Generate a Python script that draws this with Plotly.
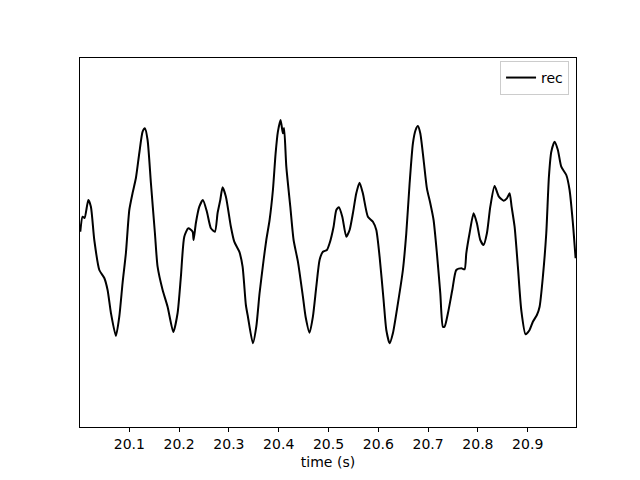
import plotly.graph_objects as go

time_s = [20.0016, 20.0062, 20.0102, 20.0177, 20.0229, 20.0297, 20.0398, 20.0498, 20.0564, 20.0631,
          20.0731, 20.0799, 20.0865, 20.0932, 20.1000, 20.1066, 20.1133, 20.1201, 20.1267, 20.1313,
          20.1367, 20.1434, 20.1514, 20.1568, 20.1669, 20.1769, 20.1884, 20.1970, 20.2036, 20.2104,
          20.2185, 20.2271, 20.2291, 20.2337, 20.2406, 20.2478, 20.2558, 20.2639, 20.2719, 20.2773,
          20.2827, 20.2873, 20.2940, 20.3040, 20.3108, 20.3209, 20.3275, 20.3341, 20.3382, 20.3482,
          20.3550, 20.3616, 20.3697, 20.3751, 20.3817, 20.3884, 20.3938, 20.3984, 20.4038, 20.4084,
          20.4108, 20.4153, 20.4233, 20.4299, 20.4386, 20.4486, 20.4540, 20.4620, 20.4687, 20.4755,
          20.4821, 20.4888, 20.4968, 20.5022, 20.5102, 20.5157, 20.5209, 20.5277, 20.5357, 20.5424,
          20.5490, 20.5558, 20.5624, 20.5690, 20.5791, 20.5892, 20.5960, 20.6026, 20.6106, 20.6161,
          20.6227, 20.6293, 20.6394, 20.6494, 20.6562, 20.6629, 20.6695, 20.6749, 20.6795, 20.6843,
          20.6910, 20.6976, 20.7044, 20.7110, 20.7177, 20.7245, 20.7297, 20.7331, 20.7398, 20.7486,
          20.7566, 20.7667, 20.7733, 20.7767, 20.7833, 20.7914, 20.7980, 20.8048, 20.8114, 20.8181,
          20.8249, 20.8335, 20.8422, 20.8516, 20.8582, 20.8637, 20.8677, 20.8737, 20.8803, 20.8871,
          20.8958, 20.9038, 20.9104, 20.9185, 20.9239, 20.9305, 20.9373, 20.9426, 20.9474, 20.9540,
          20.9606, 20.9674, 20.9775, 20.9841, 20.9908, 20.9962]

rec = [0.108, 0.258, 0.245, 0.425, 0.358, 0.025, -0.275, -0.355, -0.475, -0.705,
       -0.935, -0.742, -0.405, -0.105, 0.325, 0.495, 0.645, 0.895, 1.108, 1.142,
       1.025, 0.595, 0.095, -0.242, -0.475, -0.642, -0.895, -0.705, -0.342, 0.058,
       0.142, 0.108, 0.025, 0.195, 0.358, 0.425, 0.308, 0.142, 0.108, 0.295,
       0.425, 0.552, 0.458, 0.158, 0.008, -0.092, -0.242, -0.625, -0.742, -1.008,
       -0.842, -0.505, -0.175, 0.025, 0.225, 0.525, 0.892, 1.108, 1.225, 1.092,
       1.145, 0.758, 0.358, 0.025, -0.192, -0.542, -0.742, -0.902, -0.742, -0.442,
       -0.175, -0.092, -0.075, -0.008, 0.158, 0.325, 0.352, 0.258, 0.058, 0.125,
       0.292, 0.492, 0.598, 0.492, 0.258, 0.208, 0.125, -0.142, -0.575, -0.875,
       -1.008, -0.908, -0.608, -0.275, 0.092, 0.592, 0.992, 1.125, 1.165, 1.092,
       0.825, 0.542, 0.392, 0.225, -0.108, -0.508, -0.842, -0.842, -0.708, -0.475,
       -0.275, -0.258, -0.268, -0.108, 0.092, 0.292, 0.192, 0.025, -0.025, 0.092,
       0.358, 0.565, 0.458, 0.418, 0.442, 0.492, 0.358, 0.158, -0.242, -0.675,
       -0.918, -0.875, -0.792, -0.725, -0.642, -0.342, 0.092, 0.658, 0.908, 1.008,
       0.925, 0.758, 0.675, 0.525, 0.192, -0.158]

tick_vals = [20.1, 20.2, 20.3, 20.4, 20.5, 20.6, 20.7, 20.8, 20.9]
tick_text = ["20.1", "20.2", "20.3", "20.4", "20.5", "20.6", "20.7", "20.8", "20.9"]

fig = go.Figure()
fig.add_trace(go.Scatter(x=time_s, y=rec, mode="lines", name="rec",
                         line=dict(color="black", width=2, shape="spline", smoothing=0.6)))

fig.update_layout(
    width=640, height=480,
    margin=dict(l=72, r=72, t=50, b=61),
    paper_bgcolor="white", plot_bgcolor="white",
    font=dict(family="DejaVu Sans", size=14, color="black"),
    showlegend=True,
    legend=dict(x=0.986, y=0.992, xanchor="right", yanchor="top",
                bordercolor="#cccccc", borderwidth=1, bgcolor="white",
                font=dict(family="DejaVu Sans", size=14)),
    xaxis=dict(range=[20.001, 20.997], tickvals=tick_vals, ticktext=tick_text,
               tickfont=dict(family="DejaVu Sans", size=14, color="black"),
               ticks="outside", ticklen=4, tickcolor="black", showgrid=False, zeroline=False,
               showline=True, linecolor="black", linewidth=1, mirror=True,
               title=dict(text="time (s)", standoff=6,
                          font=dict(family="DejaVu Sans", size=14, color="black"))),
    yaxis=dict(range=[-1.845, 1.845], showticklabels=False, ticks="", showgrid=False,
               zeroline=False, showline=True, linecolor="black", linewidth=1, mirror=True),
)

fig.write_html("out.html")
